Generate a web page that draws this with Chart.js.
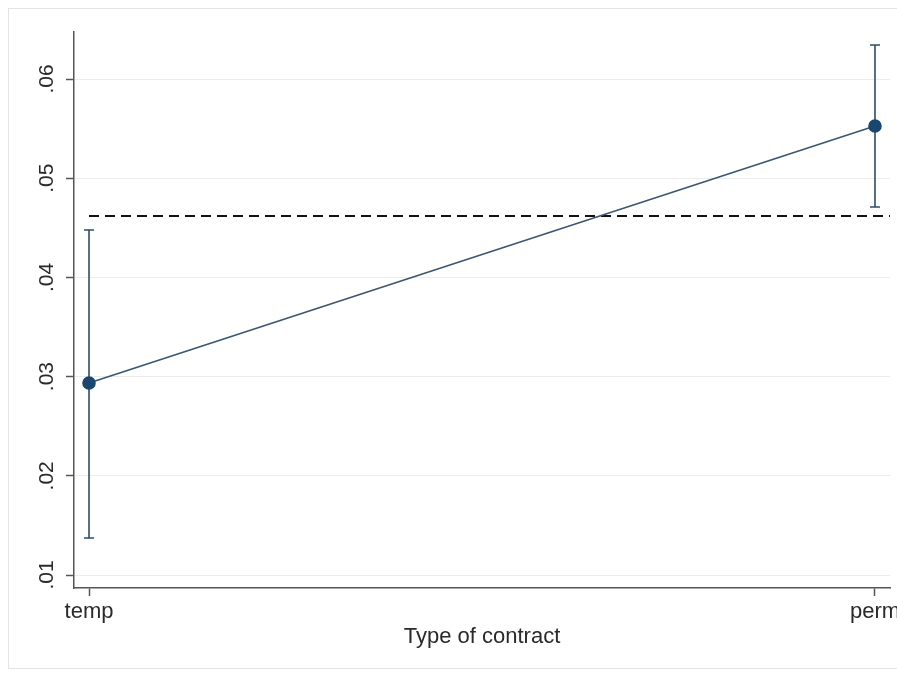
<!DOCTYPE html>
<html>
<head>
<meta charset="utf-8">
<script src="https://cdn.jsdelivr.net/npm/chart.js@4"></script>
<style>
  html, body { margin: 0; padding: 0; background: #ffffff; }
  #wrap { width: 897px; height: 675px; }
</style>
</head>
<body>
<div id="wrap"><canvas id="marginsChart" width="897" height="675"></canvas></div>
<script>
// Data
const categories = ['temp', 'perm'];
const categoryPos = [0, 1];
const margins = [0.02935, 0.05526];
const ciLow = [0.01373, 0.04710];
const ciHigh = [0.04478, 0.06343];
const refLine = 0.04619;
const yTicks = [0.01, 0.02, 0.03, 0.04, 0.05, 0.06];
const yTickLabels = ['.01', '.02', '.03', '.04', '.05', '.06'];

const NAVY = '#1a476f';
const AXIS = '#555555';
const TEXT = '#2a2a2a';
const FONT = '"Liberation Sans", Arial, sans-serif';

// Outer light frame like Stata's graph region
const framePlugin = {
    id: 'frame',
    beforeDraw: (chart) => {
        const ctx = chart.ctx;
        ctx.save();
        ctx.strokeStyle = '#e4e4e4';
        ctx.lineWidth = 1;
        ctx.strokeRect(8.5, 8.5, 900, 660);
        ctx.restore();
    }
};

// Confidence interval bars with caps
const errorBarPlugin = {
    id: 'errorBars',
    beforeDatasetsDraw: (chart) => {
        const ctx = chart.ctx;
        const x = chart.scales.x;
        const y = chart.scales.y;
        ctx.save();
        ctx.strokeStyle = '#2f4d68';
        ctx.lineWidth = 1.6;
        categoryPos.forEach((pos, i) => {
            const px = x.getPixelForValue(pos);
            const top = y.getPixelForValue(ciHigh[i]);
            const bot = y.getPixelForValue(ciLow[i]);
            ctx.beginPath();
            ctx.moveTo(px, top);
            ctx.lineTo(px, bot);
            ctx.moveTo(px - 5, top);
            ctx.lineTo(px + 5, top);
            ctx.moveTo(px - 5, bot);
            ctx.lineTo(px + 5, bot);
            ctx.stroke();
        });
        ctx.restore();
    }
};

// Vertical (rotated) y tick labels
const yLabelPlugin = {
    id: 'yLabels',
    afterDraw: (chart) => {
        const ctx = chart.ctx;
        const y = chart.scales.y;
        ctx.save();
        ctx.fillStyle = TEXT;
        ctx.font = '21px ' + FONT;
        ctx.textAlign = 'center';
        ctx.textBaseline = 'middle';
        yTicks.forEach((v, i) => {
            ctx.save();
            ctx.translate(47, y.getPixelForValue(v));
            ctx.rotate(-Math.PI / 2);
            ctx.fillText(yTickLabels[i], 0, 0);
            ctx.restore();
        });
        ctx.restore();
    }
};

const ctx = document.getElementById('marginsChart').getContext('2d');
new Chart(ctx, {
    type: 'scatter',
    data: {
        datasets: [
            {
                label: 'margins',
                data: categoryPos.map((p, i) => ({ x: p, y: margins[i] })),
                showLine: true,
                borderColor: '#3b566f',
                borderWidth: 1.6,
                pointRadius: 6,
                pointBackgroundColor: NAVY,
                pointBorderColor: NAVY,
                clip: false
            },
            {
                label: 'reference',
                data: [{ x: categoryPos[0], y: refLine }, { x: 1.0191, y: refLine }],
                showLine: true,
                borderColor: '#111111',
                borderWidth: 1.8,
                borderDash: [10, 6],
                pointRadius: 0
            }
        ]
    },
    options: {
        responsive: false,
        animation: false,
        devicePixelRatio: 1,
        layout: {
            autoPadding: false,
            padding: { left: 0, top: 32, right: 7, bottom: 0 }
        },
        plugins: {
            legend: { display: false },
            tooltip: { enabled: false }
        },
        scales: {
            x: {
                type: 'linear',
                min: -0.0191,
                max: 1.0191,
                afterBuildTicks: (scale) => {
                    scale.ticks = categoryPos.map(v => ({ value: v }));
                },
                afterFit: (scale) => {
                    scale.height = 87;
                    scale.paddingLeft = 0;
                    scale.paddingRight = 0;
                },
                ticks: {
                    padding: 3,
                    maxRotation: 0,
                    autoSkip: false,
                    color: TEXT,
                    font: { family: FONT, size: 22 },
                    callback: (v) => categories[categoryPos.indexOf(v)]
                },
                grid: {
                    drawOnChartArea: false,
                    tickLength: 8,
                    tickColor: AXIS,
                    tickWidth: 1.5
                },
                border: { color: AXIS, width: 1.5 },
                title: {
                    display: true,
                    text: 'Type of contract',
                    color: TEXT,
                    font: { family: FONT, size: 22 },
                    padding: { top: 0, bottom: 25 }
                }
            },
            y: {
                min: 0.00869,
                max: 0.06474,
                afterBuildTicks: (scale) => {
                    scale.ticks = yTicks.map(v => ({ value: v }));
                },
                afterFit: (scale) => {
                    scale.width = 74;
                    scale.paddingTop = 0;
                    scale.paddingBottom = 0;
                },
                ticks: { display: false },
                grid: {
                    color: '#ececec',
                    lineWidth: 1,
                    tickLength: 8,
                    tickColor: AXIS,
                    tickWidth: 1.5
                },
                border: { color: AXIS, width: 1.5 }
            }
        }
    },
    plugins: [framePlugin, errorBarPlugin, yLabelPlugin]
});
</script>
</body>
</html>
